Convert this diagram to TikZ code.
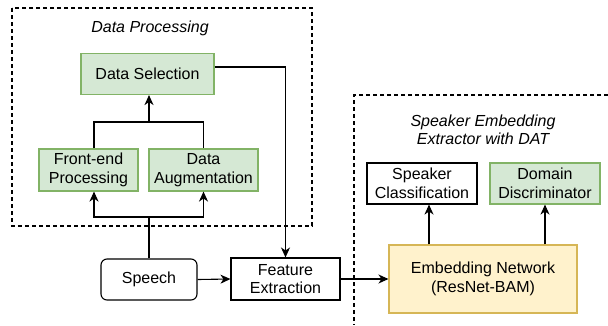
\documentclass[tikz,border=0pt]{standalone}
\usepackage{fontspec}
\setmainfont{Liberation Sans}
\usetikzlibrary{arrows.meta}
\definecolor{boxgreen}{HTML}{D5E8D4}
\definecolor{linegreen}{HTML}{82B366}
\definecolor{boxyellow}{HTML}{FFF2CC}
\definecolor{lineyellow}{HTML}{D6B656}
\begin{document}
\begin{tikzpicture}[x=1pt, y=-1pt, line width=1.1pt,
      every node/.style={font=\fontsize{16}{18.5}\selectfont, align=center, inner sep=0pt},
      whitebox/.style={draw, minimum width=#1, minimum height=41pt},
      greenbox/.style={whitebox=#1, draw=linegreen, fill=boxgreen},
      yellowbox/.style={whitebox=#1, draw=lineyellow, fill=boxyellow, minimum height=68pt},
      title/.style={font=\fontsize{16}{18.5}\selectfont\itshape},
      frame/.style={dash pattern=on 4pt off 3pt},
      arrow/.style={-{Stealth[length=10pt, width=9pt, inset=3pt]}}]
      \useasboundingbox (0, 0) rectangle (608, 325);
      % dashed groups
      \draw[frame] (12, 8) rectangle (312, 226);
      \draw[frame] (608, 95) -- (354, 95) -- (354, 325);
      \node[title] (dptitle) at (150, 28) {Data Processing};
      \node[title] (embtitle) at (483, 130) {Speaker Embedding\\Extractor with DAT};
      % blocks
      \node[greenbox=133pt] (sel) at (147.5, 74) {Data Selection};
      \node[greenbox=99pt, minimum height=42pt] (fep) at (88.5, 170) {Front-end\\Processing};
      \node[greenbox=109pt, minimum height=42pt] (aug) at (203.5, 170) {Data\\Augmentation};
      \node[whitebox=96pt, rounded corners=6pt] (speech) at (149, 279.5) {Speech};
      \node[whitebox=109pt, minimum height=42pt] (feat) at (285.5, 279) {Feature\\Extraction};
      \node[whitebox=110pt] (spk) at (422, 183.5) {Speaker\\Classification};
      \node[greenbox=110pt] (dom) at (545, 183.5) {Domain\\Discriminator};
      \node[yellowbox=188pt] (emb) at (483, 279) {Embedding Network\\(ResNet-BAM)};
      \coordinate (fork) at (149, 217);
      \coordinate (merge) at (149, 122);
      % connectors
      \draw (speech.north) -- (fork);
      \draw[arrow] (fork) -| ([xshift=5.5pt]fep.south);
      \draw[arrow] (fork) -| (aug.south);
      \draw ([xshift=5.5pt]fep.north) |- (merge) -| (aug.north);
      \draw[arrow] (merge) -- (merge |- sel.south);
      \draw[arrow] ([yshift=7pt]sel.east) -| (feat.north);
      \draw[arrow] (speech.east) -- (feat.west);
      \draw[arrow] (feat.east) -- (emb.west);
      \draw[arrow] ([xshift=-54pt]emb.north) -- ([xshift=-54pt]emb.north |- spk.south);
      \draw[arrow] ([xshift=62pt]emb.north) -- ([xshift=62pt]emb.north |- dom.south);
\end{tikzpicture}
\end{document}
